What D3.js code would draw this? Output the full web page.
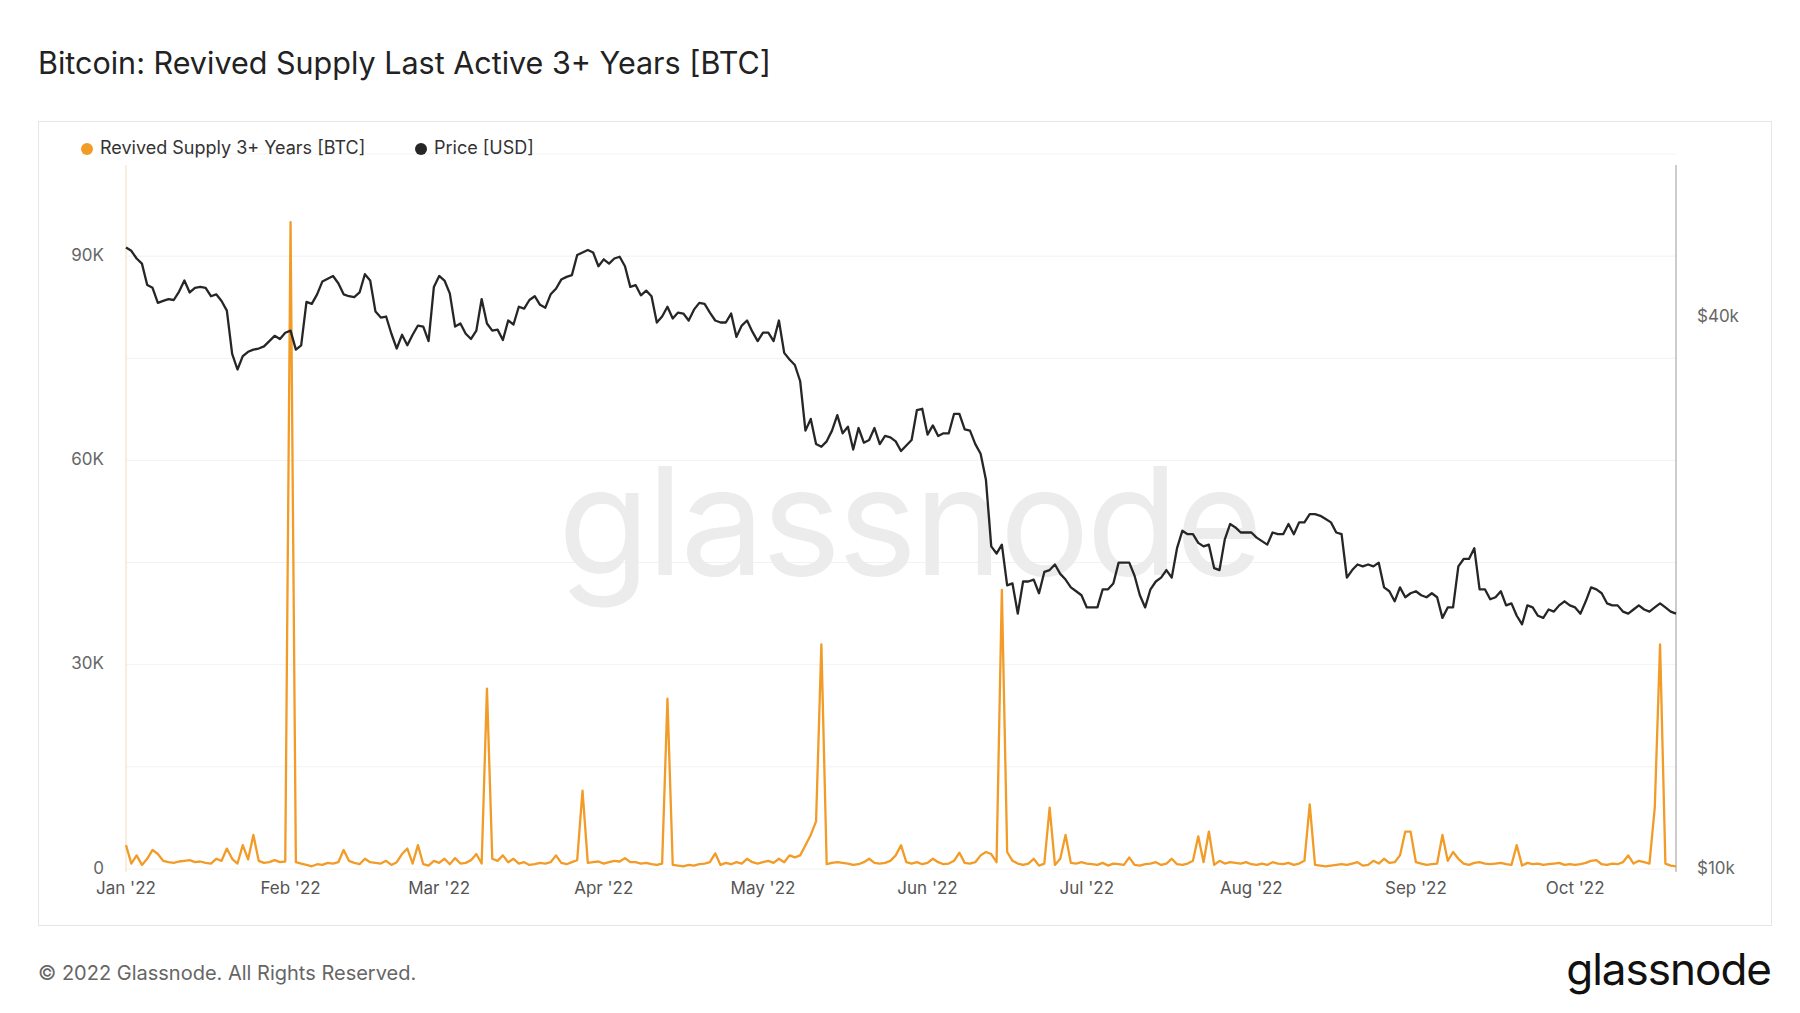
<!DOCTYPE html>
<html><head><meta charset="utf-8">
<script src="https://cdn.jsdelivr.net/npm/d3@7"></script>
<style>body{margin:0;background:#fff;font-family:Inter,"Noto Sans",sans-serif}</style>
</head><body><div id="chart"></div>
<script>
// daily BTC price (USD, thousands), Jan 1 – Oct 20 2022
const priceJan = [47.7,47.3,46.4,45.8,43.4,43.1,41.5,41.7,41.9,41.8,42.7,43.9,42.6,43.1,43.2,43.1,42.2,42.4,41.7,40.7,36.5,35.1,36.3,36.7,36.9,37.0,37.2,37.7,38.2,37.9,38.5];
const priceFeb = [38.7,36.9,37.3,41.6,41.4,42.4,43.8,44.1,44.4,43.6,42.4,42.2,42.1,42.6,44.6,43.9,40.6,40.0,40.1,38.4,37.0,38.3,37.3,38.3,39.2,39.1,37.7,43.2];
const priceMar = [44.4,43.9,42.5,39.1,39.4,38.4,37.9,38.7,41.9,39.4,38.7,38.8,37.8,39.7,39.3,41.1,40.9,41.8,42.2,41.3,41.0,42.4,43.0,44.0,44.3,44.5,46.8,47.1,47.4,47.1,45.5];
const priceApr = [46.3,45.8,46.4,46.6,45.5,43.2,43.4,42.3,42.8,42.2,39.5,40.1,41.1,39.9,40.5,40.4,39.7,40.8,41.5,41.4,40.5,39.7,39.5,39.5,40.4,38.1,39.2,39.7,38.6,37.7];
const priceMay = [38.5,38.5,37.7,39.7,36.6,36.0,35.5,34.1,30.1,31.0,29.1,28.9,29.3,30.1,31.3,29.9,30.4,28.7,30.3,29.2,29.4,30.3,29.1,29.7,29.6,29.3,28.6,29.0,29.4,31.7,31.8];
const priceJun = [29.8,30.5,29.7,29.9,29.9,31.4,31.4,30.2,30.1,29.1,28.4,26.6,22.5,22.1,22.6,20.4,20.5,19.0,20.6,20.6,20.7,20.0,21.1,21.2,21.5,21.0,20.7,20.3,20.1,19.9];
const priceJul = [19.3,19.3,19.3,20.2,20.2,20.5,21.6,21.6,21.6,20.9,19.9,19.3,20.2,20.6,20.8,21.2,20.8,22.4,23.4,23.2,23.2,22.7,22.5,22.6,21.3,21.2,22.9,23.8,23.6,23.3,23.3];
const priceAug = [23.3,23.0,22.8,22.6,23.3,23.2,23.2,23.8,23.2,23.9,23.9,24.4,24.4,24.3,24.1,23.9,23.3,23.2,20.8,21.2,21.5,21.4,21.5,21.4,21.6,20.3,20.1,19.6,20.3,19.8,20.0];
const priceSep = [20.1,19.9,19.8,20.0,19.8,18.8,19.3,19.3,21.4,21.8,21.8,22.4,20.2,20.2,19.7,19.8,20.1,19.4,19.5,18.9,18.5,19.4,19.3,18.9,18.8,19.2,19.1,19.4,19.6,19.4];
const priceOct = [19.3,19.0,19.6,20.3,20.2,20.0,19.5,19.4,19.4,19.1,19.0,19.2,19.4,19.2,19.1,19.3,19.5,19.3,19.1,19.0];

// daily revived supply 3+ years (BTC, thousands)
const supplyJan = [3.5,0.8,2.0,0.6,1.5,2.8,2.2,1.2,1.0,0.9,1.1,1.2,1.3,1.0,1.1,0.9,0.8,1.5,1.2,3.0,1.5,0.8,3.5,1.4,5.0,1.2,0.9,1.0,1.3,1.0,1.1];
const supplyFeb = [95.0,1.0,0.8,0.6,0.4,0.7,0.6,0.9,0.8,1.0,2.8,1.2,0.9,0.7,1.5,1.0,0.9,0.8,1.2,0.6,1.0,2.2,3.0,0.8,3.5,0.7,0.5,1.2];
const supplyMar = [0.9,1.5,0.7,1.6,0.8,0.9,1.3,2.2,0.8,26.5,1.5,1.2,2.0,1.0,1.5,0.8,1.0,0.6,0.7,0.9,0.8,1.0,2.0,0.9,0.7,1.0,1.3,11.5,0.9,1.0,1.1];
const supplyApr = [0.8,1.0,1.2,1.1,1.6,1.0,1.0,0.8,0.9,0.7,0.6,0.8,25.0,0.6,0.5,0.4,0.6,0.5,0.7,0.8,1.0,2.3,0.6,0.9,0.7,1.0,0.8,1.5,1.0,0.8];
const supplyMay = [1.0,1.2,0.9,1.5,1.0,2.0,1.7,2.0,3.5,5.0,7.0,33.0,0.7,0.9,1.0,0.9,0.8,0.6,0.7,1.0,1.5,0.9,0.8,0.9,1.2,2.0,3.5,1.0,0.8,1.0,0.7];
const supplyJun = [0.9,1.5,1.0,0.7,0.8,1.2,2.4,0.9,0.8,1.0,2.0,2.5,2.2,1.0,41.0,2.5,1.2,0.8,0.6,0.8,1.5,0.5,0.8,9.0,0.6,1.5,5.0,0.9,0.8,1.0];
const supplyJul = [0.8,0.7,0.6,0.9,0.5,0.8,0.7,0.6,1.7,0.6,0.5,0.7,0.8,1.0,0.6,0.8,1.5,0.7,0.6,0.8,1.2,4.8,1.0,5.5,0.6,1.2,0.8,1.0,0.9,0.8,1.0];
const supplyAug = [0.7,0.6,0.8,0.6,1.0,0.8,0.7,0.9,0.6,0.8,1.2,9.5,0.6,0.5,0.4,0.5,0.6,0.7,0.6,0.8,1.0,0.5,0.6,1.2,0.8,1.5,0.9,1.0,2.0,5.5,5.5];
const supplyS = [1.0,0.8,0.6,0.7,0.8,5.0,1.2,2.5,1.5,0.8,0.6,0.9,1.0,0.8,0.7,0.8,0.9,0.7,0.6,3.5,0.5,0.9,0.7,0.8,0.6,0.7,0.8,0.9,0.6,0.7];
const supplyOct = [0.6,0.7,0.9,1.2,1.3,0.7,0.6,0.8,0.7,1.0,2.0,0.8,1.2,1.0,0.8,9.0,33.0,0.8,0.5,0.4];

const priceTicks = [10000, 40000];
const supplyTicks = [0, 30000, 60000, 90000];
const monthLabels = ["Jan '22","Feb '22","Mar '22","Apr '22","May '22","Jun '22","Jul '22","Aug '22","Sep '22","Oct '22"];

const price = [].concat(priceJan,priceFeb,priceMar,priceApr,priceMay,priceJun,priceJul,priceAug,priceSep,priceOct);
const supply = [].concat(supplyJan,supplyFeb,supplyMar,supplyApr,supplyMay,supplyJun,supplyJul,supplyAug,supplyS,supplyOct);
const start = new Date(2022, 0, 1);
const day = i => new Date(2022, 0, 1 + i);

const W = 1800, H = 1013;
const margin = {left: 126, right: 124, top: 165, bottom: 141};
const width = W - margin.left - margin.right;
const height = H - margin.top - margin.bottom;

const svg = d3.select("#chart").append("svg").attr("width", W).attr("height", H);

svg.append("text").attr("x", 38).attr("y", 74).attr("font-size", "30.5px").attr("fill", "#222").text("Bitcoin: Revived Supply Last Active 3+ Years [BTC]");
svg.append("rect").attr("x", 38.5).attr("y", 121.5).attr("width", 1733).attr("height", 804).attr("fill", "none").attr("stroke", "#e6e6e6");
svg.append("text").attr("x", 38).attr("y", 980).attr("font-size", "20px").attr("fill", "#666").text("© 2022 Glassnode. All Rights Reserved.");
svg.append("text").attr("x", 1771).attr("y", 985).attr("text-anchor", "end").attr("font-size", "44px").attr("letter-spacing", "-1px").attr("fill", "#111").text("glassnode");

const g = svg.append("g").attr("transform", `translate(${margin.left},${margin.top})`);

const xScale = d3.scaleTime().domain([start, day(price.length - 1)]).range([0, width]);
const base = height - 3;
const ySupply = d3.scaleLinear().domain([0, 105000]).range([base, base - 715]);
const yPrice = d3.scaleLog().domain([10000, 60000]).range([base, base - 916 * Math.log10(6)]);

// gridlines
g.selectAll(".grid").data(d3.range(0, 105001, 15000)).enter().append("line")
    .attr("x1", 0).attr("x2", width)
    .attr("y1", d => ySupply(d)).attr("y2", d => ySupply(d))
    .attr("stroke", "#f2f2f2");

g.append("text").attr("x", width / 2 + 8).attr("y", 410).attr("text-anchor", "middle")
    .attr("font-size", "150px").attr("fill", "#ececec").attr("letter-spacing", "-3px").text("glassnode");

g.append("line").attr("x1", 0).attr("x2", 0).attr("y1", 0).attr("y2", height).attr("stroke", "#f3dcbc");
g.append("line").attr("x1", width).attr("x2", width).attr("y1", 0).attr("y2", height).attr("stroke", "#999");

g.selectAll(".ylab").data(supplyTicks).enter().append("text")
    .attr("x", -22).attr("y", d => ySupply(d)).attr("text-anchor", "end").attr("dominant-baseline", "middle")
    .attr("font-size", "17px").attr("fill", "#666").text(d => d === 0 ? "0" : d / 1000 + "K");
g.selectAll(".plab").data(priceTicks).enter().append("text")
    .attr("x", width + 21).attr("y", d => yPrice(d)).attr("dominant-baseline", "middle")
    .attr("font-size", "17px").attr("fill", "#666").text(d => "$" + d / 1000 + "k");
g.selectAll(".xlab").data(monthLabels).enter().append("text")
    .attr("x", (d, i) => xScale(new Date(2022, i, 1))).attr("y", height + 22).attr("text-anchor", "middle")
    .attr("font-size", "17px").attr("fill", "#555").text(d => d);

const supplyLine = d3.line().x((d, i) => xScale(day(i))).y(d => ySupply(d * 1000));
g.append("path").datum(supply).attr("fill", "none").attr("stroke", "#f29b27").attr("stroke-width", 2.3).attr("stroke-linejoin", "round").attr("d", supplyLine);

const priceLine = d3.line().x((d, i) => xScale(day(i))).y(d => yPrice(d * 1000));
g.append("path").datum(price).attr("fill", "none").attr("stroke", "#262626").attr("stroke-width", 2.3).attr("stroke-linejoin", "round").attr("d", priceLine);

// legend
const legend = [["Revived Supply 3+ Years [BTC]", "#f29b27", 87], ["Price [USD]", "#262626", 421]];
legend.forEach(([label, color, x]) => {
    svg.append("circle").attr("cx", x).attr("cy", 149).attr("r", 6).attr("fill", color);
    svg.append("text").attr("x", x + 13).attr("y", 149).attr("dominant-baseline", "middle").attr("font-size", "18px").attr("fill", "#333").text(label);
});
</script></body></html>
